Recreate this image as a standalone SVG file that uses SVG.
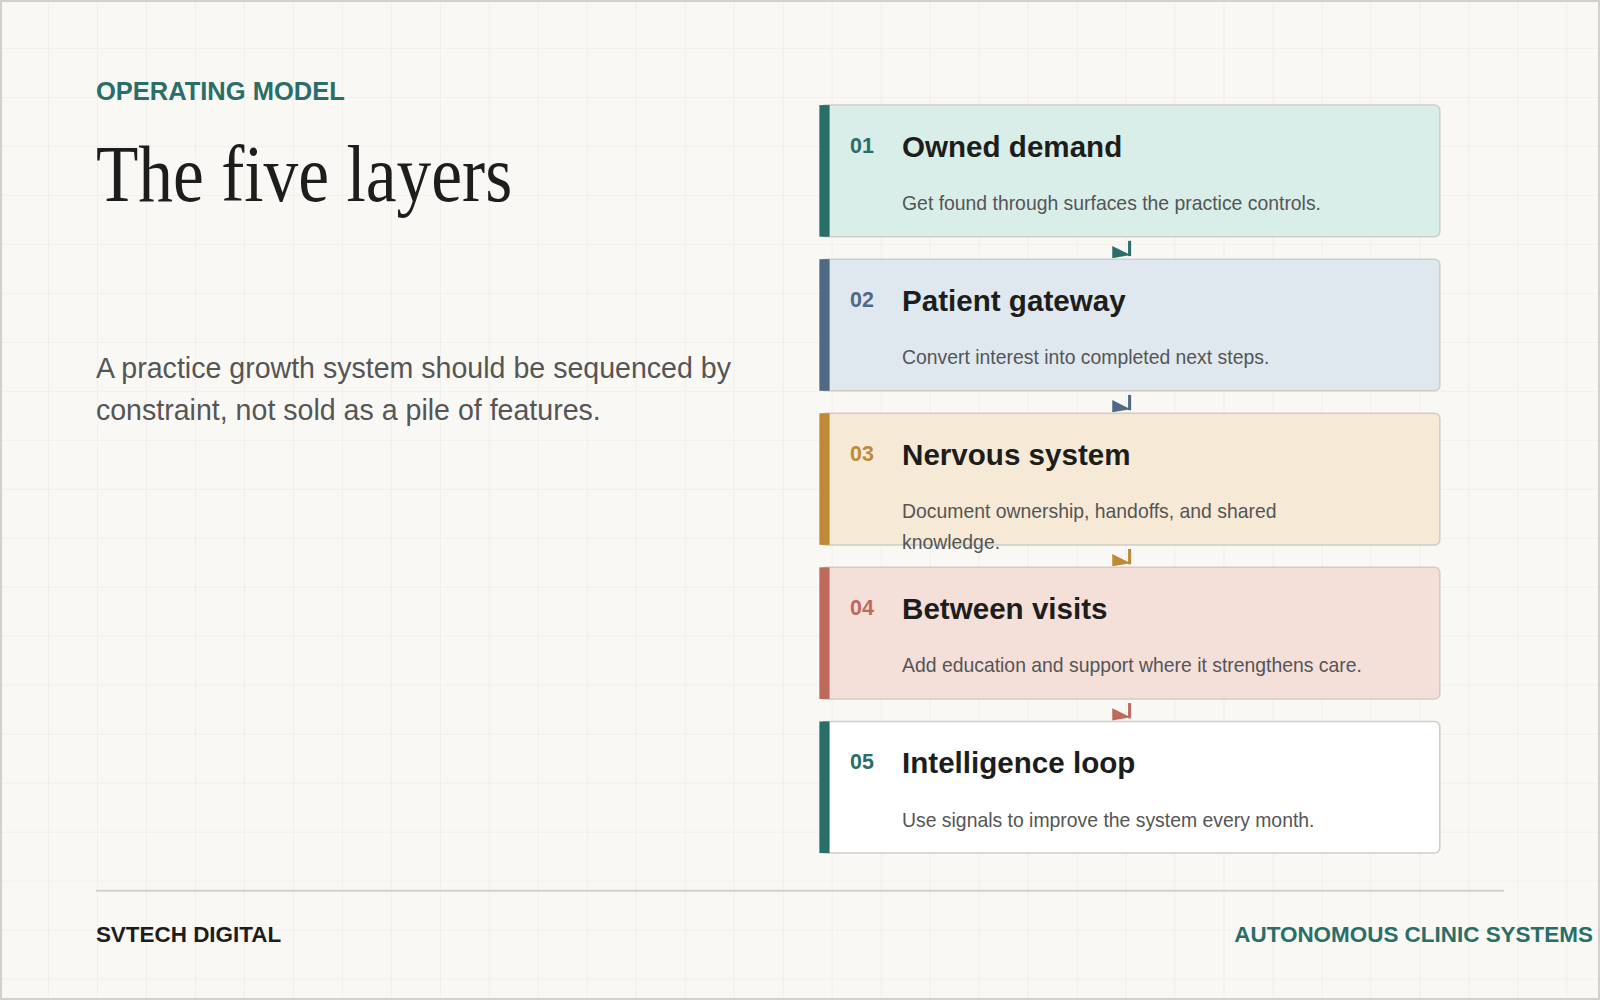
<svg xmlns="http://www.w3.org/2000/svg" width="1600" height="1000" viewBox="0 0 1600 1000">
<defs>
<pattern id="grid" width="48" height="48" patternUnits="userSpaceOnUse" x="0" y="0"><path d="M48 0V48M0 48H48" fill="none" stroke="#ebe8e3" stroke-width="1.2"/></pattern>
<style>
.s{font-family:"Liberation Sans",Arial,sans-serif}
.num{font-family:"Liberation Sans",Arial,sans-serif;font-weight:bold;font-size:21px}
.t{font-family:"Liberation Sans",Arial,sans-serif;font-weight:bold;font-size:29px;fill:#1d1d1b}
.d{font-family:"Liberation Sans",Arial,sans-serif;font-size:19px;fill:#555}
.card{stroke:#cfcdc6;stroke-width:1.5}
</style>
</defs>
<g transform="scale(1.02041)">
<rect width="1568" height="980" fill="#f9f8f5"/>
<rect width="1568" height="980" fill="url(#grid)"/>
<rect x="1" y="1" width="1566" height="978" fill="none" stroke="#d3d1cb" stroke-width="2"/>
<text x="94" y="98" class="s" font-size="25" font-weight="bold" fill="#2a6e68">OPERATING MODEL</text>
<text x="94" y="197" font-family="'Liberation Serif','DejaVu Serif',serif" font-size="78" fill="#1d1d1b" textLength="408" lengthAdjust="spacingAndGlyphs">The five layers</text>
<text class="s" font-size="28" fill="#555"><tspan x="94" y="370">A practice growth system should be sequenced by</tspan><tspan x="94" y="412">constraint, not sold as a pile of features.</tspan></text>
<g id="connectors">
<g fill="#2a6e68"><path d="M1107 236V251" stroke="#2a6e68" stroke-width="3"/><polygon points="1090,241 1108,250 1090,253"/></g>
<g fill="#4f6985"><path d="M1107 387V402" stroke="#4f6985" stroke-width="3"/><polygon points="1090,392 1108,401 1090,404"/></g>
<g fill="#bf8a36"><path d="M1107 538V553" stroke="#bf8a36" stroke-width="3"/><polygon points="1090,543 1108,552 1090,555"/></g>
<g fill="#bd6a5d"><path d="M1107 689V704" stroke="#bd6a5d" stroke-width="3"/><polygon points="1090,694 1108,703 1090,706"/></g>
</g>
<g id="n1"><rect class="card" x="804" y="103" width="607" height="129" rx="5" fill="#d9ede9"/><rect x="803" y="103" width="10" height="129" fill="#2a6e68"/><text x="833" y="150" class="num" fill="#2a6e68">01</text><text x="884" y="154" class="t">Owned demand</text><text x="884" y="206" class="d">Get found through surfaces the practice controls.</text></g>
<g id="n2"><rect class="card" x="804" y="254" width="607" height="129" rx="5" fill="#dfe7ef"/><rect x="803" y="254" width="10" height="129" fill="#4f6985"/><text x="833" y="301" class="num" fill="#4f6985">02</text><text x="884" y="305" class="t">Patient gateway</text><text x="884" y="357" class="d">Convert interest into completed next steps.</text></g>
<g id="n3"><rect class="card" x="804" y="405" width="607" height="129" rx="5" fill="#f6ead6"/><rect x="803" y="405" width="10" height="129" fill="#bf8a36"/><text x="833" y="452" class="num" fill="#bf8a36">03</text><text x="884" y="456" class="t">Nervous system</text><text class="d"><tspan x="884" y="508">Document ownership, handoffs, and shared</tspan><tspan x="884" y="538">knowledge.</tspan></text></g>
<g id="n4"><rect class="card" x="804" y="556" width="607" height="129" rx="5" fill="#f4dfd9"/><rect x="803" y="556" width="10" height="129" fill="#bd6a5d"/><text x="833" y="603" class="num" fill="#bd6a5d">04</text><text x="884" y="607" class="t">Between visits</text><text x="884" y="659" class="d">Add education and support where it strengthens care.</text></g>
<g id="n5"><rect class="card" x="804" y="707" width="607" height="129" rx="5" fill="#ffffff"/><rect x="803" y="707" width="10" height="129" fill="#2a6e68"/><text x="833" y="754" class="num" fill="#2a6e68">05</text><text x="884" y="758" class="t">Intelligence loop</text><text x="884" y="810" class="d">Use signals to improve the system every month.</text></g>
<line x1="94" y1="873" x2="1474" y2="873" stroke="#d3d1cb" stroke-width="2"/>
<text x="94" y="923" class="s" font-size="22" font-weight="bold" fill="#1d1d1b">SVTECH DIGITAL</text>
<text x="1561" y="923" class="s" font-size="22" font-weight="bold" fill="#2a6e68" text-anchor="end">AUTONOMOUS CLINIC SYSTEMS</text>
</g>
</svg>
